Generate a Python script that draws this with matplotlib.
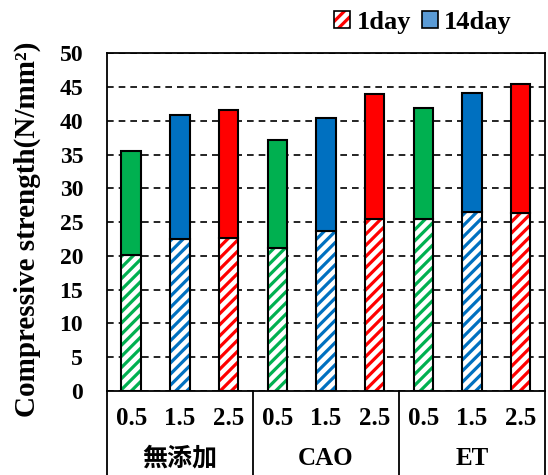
import matplotlib
matplotlib.use('Agg')
import matplotlib.pyplot as plt
import matplotlib.transforms as mtransforms
from matplotlib.patches import Patch
import numpy as np

groups = ['無添加', 'CAO', 'ET']
doses = ['0.5', '1.5', '2.5']
day1 = [20.1, 22.5, 22.7, 21.2, 23.7, 25.4, 25.4, 26.5, 26.4]
day14 = [35.5, 40.8, 41.6, 37.2, 40.4, 43.9, 41.9, 44.1, 45.4]
dose_colors = ['#00B050', '#0070C0', '#FF0000']

plt.rcParams['font.family'] = ['Liberation Serif', 'Noto Sans CJK JP']
plt.rcParams['font.weight'] = 'bold'
plt.rcParams['hatch.linewidth'] = 2.3

fig = plt.figure(figsize=(5.48, 4.75), dpi=100)
ax = fig.add_axes([0.195, 0.177, 0.7995, 0.711])

x = np.arange(len(day1))
colors = [dose_colors[i % 3] for i in range(len(day1))]
top = np.array(day14) - np.array(day1)
w = 0.4

# hatched 1day part (hatch drawn in bar colour, outline drawn separately)
for xi, v, c in zip(x, day1, colors):
    ax.bar(xi, v, width=w, color='white', edgecolor=c, hatch='///', linewidth=0, zorder=3)
ax.bar(x, day1, width=w, color='none', edgecolor='black', linewidth=1.5, zorder=4)
ax.bar(x, top, bottom=day1, width=w, color=colors, edgecolor='black', linewidth=1.5, zorder=4)

ax.set_xlim(-0.5, 8.5)
ax.set_ylim(0, 50)
ax.set_yticks(np.arange(0, 51, 5))
ax.yaxis.grid(True, linestyle=(0, (4, 3)), color='black', linewidth=1.2, zorder=1)
ax.set_axisbelow(True)
ax.tick_params(axis='y', length=0, labelsize=17, pad=17)
ax.set_xticks([])
for s in ax.spines.values():
    s.set_linewidth(1.3)

ax.set_ylabel('Compressive strength(N/mm²)', fontsize=21, fontweight='bold')
ax.yaxis.set_label_coords(-0.15, 0.48)

# category table below the axis
trans = mtransforms.blended_transform_factory(ax.transData, ax.transAxes)
for b in [-0.5, 2.5, 5.5, 8.5]:
    ax.plot([b, b], [0, -0.26], color='black', linewidth=1.3, transform=trans, clip_on=False)
for xi in x:
    ax.text(xi, -0.082, doses[xi % 3], transform=trans, ha='center', va='center', fontsize=18, fontweight='bold')
for gi, g in enumerate(groups):
    ax.text(gi * 3 + 1, -0.2, g, transform=trans, ha='center', va='center', fontsize=18, fontweight='bold')

h1 = (Patch(facecolor='white', edgecolor='#FF0000', hatch='///', linewidth=0),
      Patch(facecolor='none', edgecolor='black', linewidth=1.2))
h2 = Patch(facecolor='#5B9BD5', edgecolor='black', linewidth=1.2)
fig.legend([h1, h2], ['1day', '14day'], loc='center right', bbox_to_anchor=(512 / 548, 1 - 22 / 475), ncol=2,
           frameon=False, handlelength=0.6, handleheight=0.6, handletextpad=0.25,
           columnspacing=0.4, borderaxespad=0, borderpad=0, prop={'size': 19, 'weight': 'bold'})

fig.savefig('out.png', dpi=100)
